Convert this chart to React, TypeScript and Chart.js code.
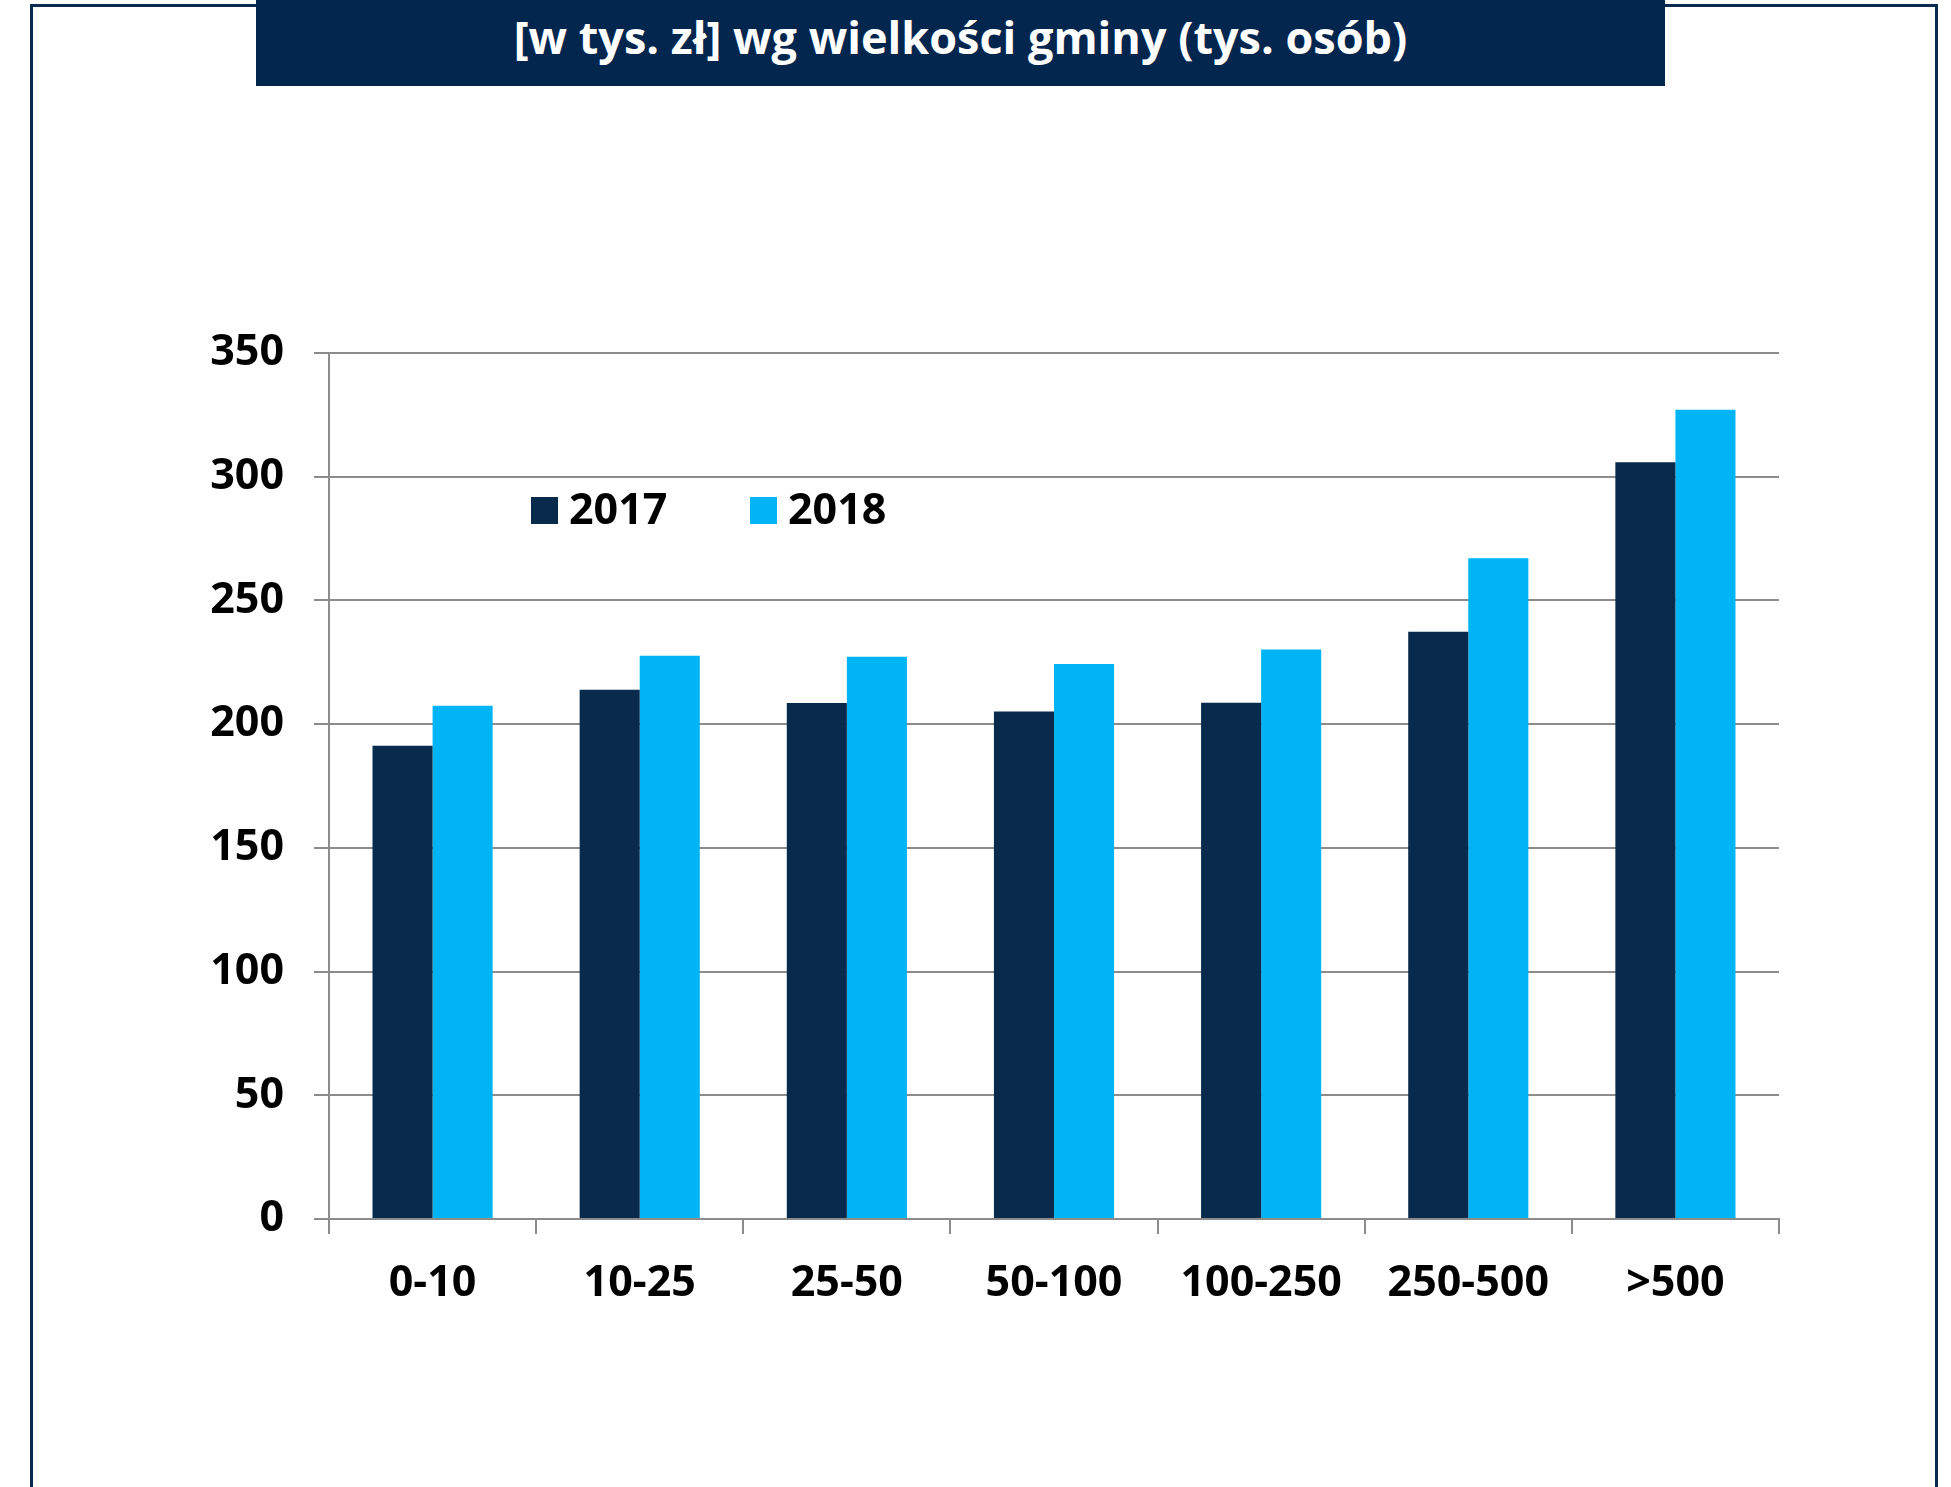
import React, { useEffect, useRef } from "react";
import { Chart, registerables } from "chart.js";

Chart.register(...registerables);

const categories = ["0-10", "10-25", "25-50", "50-100", "100-250", "250-500", ">500"];
const values2017 = [191.3, 213.9, 208.5, 205.1, 208.6, 237.3, 305.8];
const values2018 = [207.4, 227.6, 227.2, 224.3, 230.2, 267.0, 327.1];
const seriesNames = ["2017", "2018"];
const seriesColors = ["#072A4D", "#00B4F6"];
const yMin = 0;
const yMax = 350;
const yStep = 50;
const titleText = "[w tys. zł] wg wielkości gminy (tys. osób)";

const FONT = "'Open Sans', 'Noto Sans', sans-serif";
const GRID = "#8C8C8C";

export default function App() {
  const canvasRef = useRef<HTMLCanvasElement | null>(null);

  useEffect(() => {
    const canvas = canvasRef.current;
    if (!canvas) return;
    const seriesValues = [values2017, values2018];
    const chart = new Chart(canvas, {
      type: "bar",
      data: {
        labels: categories,
        datasets: seriesNames.map((name, i) => ({
          label: name,
          data: seriesValues[i],
          backgroundColor: seriesColors[i],
          borderWidth: 0,
          categoryPercentage: 0.58,
          barPercentage: 1,
        })),
      },
      options: {
        responsive: false,
        animation: false,
        devicePixelRatio: 1,
        layout: { padding: { left: 0, top: 353, right: 172, bottom: 148 } },
        plugins: {
          legend: { display: false },
          title: { display: false },
          tooltip: { enabled: false },
        },
        scales: {
          x: {
            grid: {
              display: true,
              drawOnChartArea: false,
              drawTicks: true,
              tickLength: 15,
              color: GRID,
              lineWidth: 2,
              offset: true,
            },
            border: { display: true, color: GRID, width: 2 },
            ticks: {
              font: { family: FONT, weight: "bold", size: 43 },
              color: "#000",
              padding: 24,
              maxRotation: 0,
              autoSkip: false,
            },
            afterFit: (s: any) => {
              s.height = 120;
            },
          },
          y: {
            min: yMin,
            max: yMax,
            ticks: {
              stepSize: yStep,
              font: { family: FONT, weight: "bold", size: 43 },
              color: "#000",
              padding: 30,
            },
            grid: { color: GRID, lineWidth: 2, tickLength: 15, drawTicks: true },
            border: { display: true, color: GRID, width: 2 },
            afterFit: (s: any) => {
              s.width = 329;
            },
          },
        },
      },
    });
    return () => chart.destroy();
  }, []);

  return (
    <div
      style={{
        position: "absolute",
        left: 0,
        top: 0,
        width: 1951,
        height: 1487,
        overflow: "hidden",
        background: "#fff",
      }}
    >
      <div
        style={{
          position: "absolute",
          left: 30,
          top: 4,
          width: 1908,
          height: 2000,
          border: "3px solid #0A2B50",
          boxSizing: "border-box",
        }}
      />
      <canvas
        ref={canvasRef}
        width={1951}
        height={1487}
        style={{ position: "absolute", left: 0, top: 0, display: "block" }}
      />
      <div
        style={{
          position: "absolute",
          left: 256,
          top: 0,
          width: 1409,
          height: 86,
          background: "#03264F",
        }}
      >
        <div
          style={{
            position: "absolute",
            left: 0,
            right: 0,
            top: 14,
            textAlign: "center",
            color: "#fff",
            fontFamily: FONT,
            fontWeight: "bold",
            fontSize: 45,
            lineHeight: "45px",
            whiteSpace: "nowrap",
          }}
        >
          {titleText}
        </div>
      </div>
      {seriesNames.map((name, i) => (
        <React.Fragment key={name}>
          <div
            style={{
              position: "absolute",
              left: 531 + i * 219,
              top: 497,
              width: 27,
              height: 27,
              background: seriesColors[i],
            }}
          />
          <div
            style={{
              position: "absolute",
              left: 569 + i * 219,
              top: 486,
              fontFamily: FONT,
              fontWeight: "bold",
              fontSize: 43,
              lineHeight: "43px",
              color: "#000",
              whiteSpace: "nowrap",
            }}
          >
            {name}
          </div>
        </React.Fragment>
      ))}
    </div>
  );
}
